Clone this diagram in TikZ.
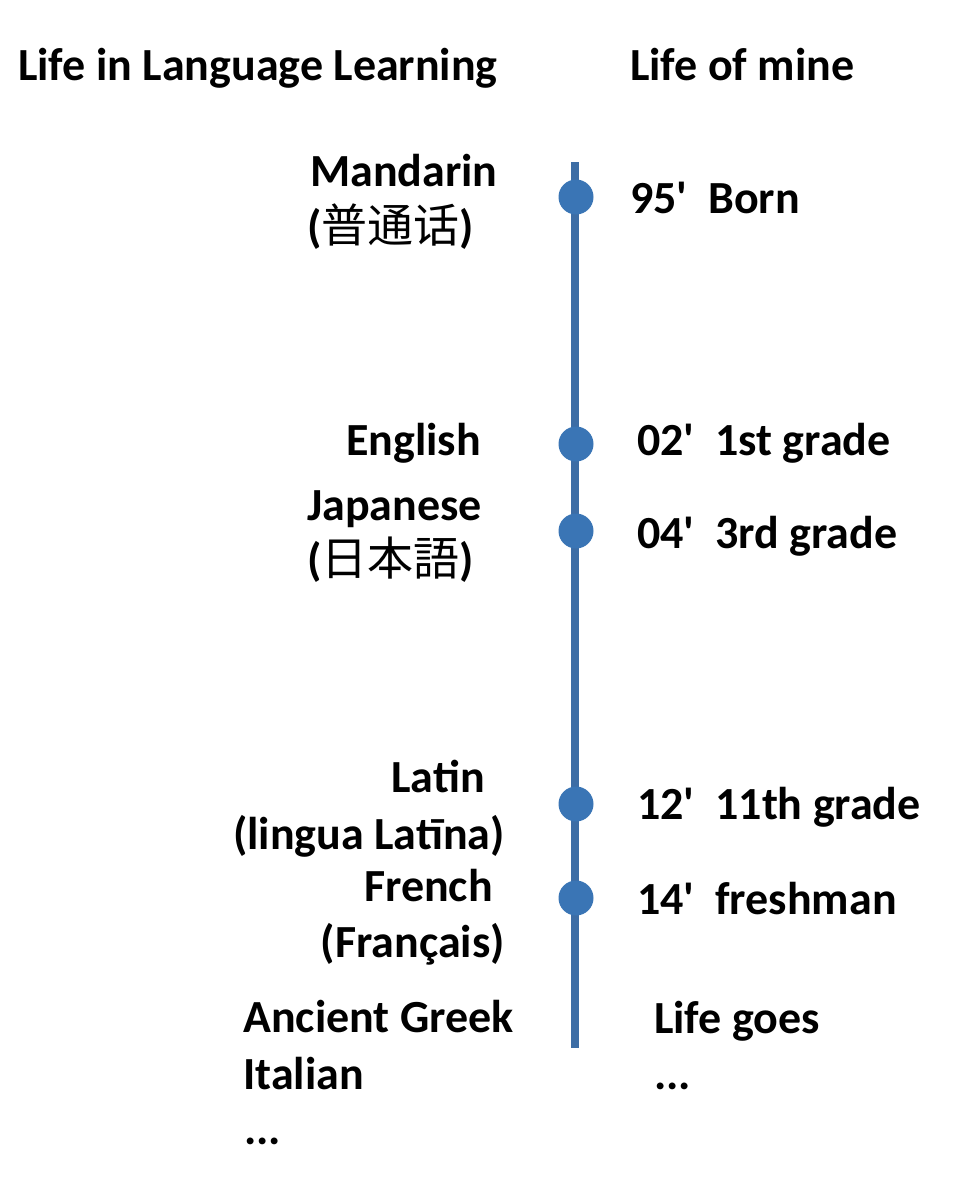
\documentclass[tikz,border=0pt]{standalone}
\usepackage{fontspec}
\setmainfont{Carlito}
\newfontfamily\cjksc{Noto Sans CJK SC}
\newfontfamily\cjkjp{Noto Sans CJK JP}
\definecolor{linecol}{HTML}{3D6DA5}
\definecolor{dotcol}{HTML}{3A75B5}
\newcommand{\ap}{\textquotesingle}
\begin{document}
\begin{tikzpicture}[x=1pt,y=-1pt,
  lbl/.style={inner sep=0pt,font=\fontsize{46}{55}\selectfont\bfseries,text=black},
  dotstyle/.style={circle,fill=dotcol,minimum size=35pt,inner sep=0pt}]
\useasboundingbox (0,0) rectangle (971,1179);
% headers
\node[lbl,anchor=base west] (h1) at (18,80) {Life in Language Learning};
\node[lbl,anchor=base west] (h2) at (630,80) {Life of mine};
% timeline
\coordinate (top) at (575,162);
\coordinate (bot) at (575,1048);
\draw[linecol,line width=8pt] (top) -- (bot);
\node[dotstyle] (d1) at (576,197) {};
\node[dotstyle] (d2) at (576,444) {};
\node[dotstyle] (d3) at (576,531) {};
\node[dotstyle] (d4) at (576,804) {};
\node[dotstyle] (d5) at (576,898) {};
% left labels
\node[lbl,anchor=base west] (m1) at (310,186) {Mandarin};
\node[lbl,anchor=base west] (m2) at (307,242) {(\mdseries\cjksc 普通话\bfseries\rmfamily)};
\node[lbl,anchor=base east] (e1) at (481,455) {English};
\node[lbl,anchor=base west] (j1) at (307,520) {Japanese};
\node[lbl,anchor=base west] (j2) at (307,575) {(\mdseries\cjkjp 日本語\bfseries\rmfamily)};
\node[lbl,anchor=base east] (l1) at (485,792) {Latin};
\node[lbl,anchor=base east] (l2) at (505,849) {(lingua Latīna)};
\node[lbl,anchor=base east] (f1) at (493,901) {French};
\node[lbl,anchor=base east] (f2) at (505,957) {(Français)};
\node[lbl,anchor=base west] (a1) at (243,1032) {Ancient Greek};
\node[lbl,anchor=base west] (a2) at (243,1089) {Italian};
\node[lbl,anchor=base west] (a3) at (244,1144) {...};
% right labels
\node[lbl,anchor=base west] (r1) at (630,213) {95\ap\ \ Born};
\node[lbl,anchor=base west] (r2) at (637,455) {02\ap\ \ 1st grade};
\node[lbl,anchor=base west] (r3) at (637,548) {04\ap\ \ 3rd grade};
\node[lbl,anchor=base west] (r4) at (637,819) {12\ap\ \ 11th grade};
\node[lbl,anchor=base west] (r5) at (637,914) {14\ap\ \ freshman};
\node[lbl,anchor=base west] (r6) at (654,1033) {Life goes};
\node[lbl,anchor=base west] (r7) at (654,1089) {...};
\end{tikzpicture}
\end{document}
